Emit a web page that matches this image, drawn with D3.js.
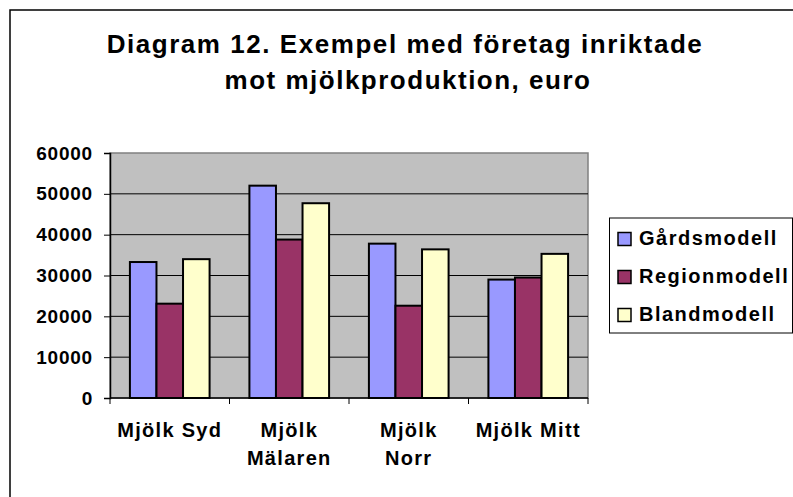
<!DOCTYPE html>
<html>
<head>
<meta charset="utf-8">
<script src="https://cdn.jsdelivr.net/npm/d3@7"></script>
<style>
  body { margin: 0; background: #fff; }
  svg { display: block; font-family: "Liberation Sans", Arial, sans-serif; font-weight: bold; }
</style>
</head>
<body>
<div id="chart"></div>
<script>
"use strict"

// chart data
let categories = [["Mjölk Syd"], ["Mjölk", "Mälaren"], ["Mjölk", "Norr"], ["Mjölk Mitt"]];
let seriesNames = ["Gårdsmodell", "Regionmodell", "Blandmodell"];
let seriesColors = ["#9999ff", "#993366", "#ffffcc"];
let gardsmodell = [33300, 52000, 37800, 29000];
let regionmodell = [23100, 38800, 22600, 29500];
let blandmodell = [34000, 47700, 36400, 35300];
let yTicks = [0, 10000, 20000, 30000, 40000, 50000, 60000];
let titleLines = ["Diagram 12. Exempel med företag inriktade", "mot mjölkproduktion, euro"];

let seriesValues = [gardsmodell, regionmodell, blandmodell];

let drawing = d3.select("#chart")
    .append("svg")
    .attr("width", 793)
    .attr("height", 497);

// outer chart border, runs off the right and bottom edge
drawing.append("rect")
    .attr("x", 10)
    .attr("y", 10)
    .attr("width", 800)
    .attr("height", 500)
    .attr("fill", "white")
    .attr("stroke", "black")
    .attr("stroke-width", 1.5);

// title
drawing.append("text")
    .attr("x", 405)
    .attr("y", 53)
    .attr("text-anchor", "middle")
    .attr("font-size", 26)
    .attr("letter-spacing", 1.55)
    .text(titleLines[0]);

drawing.append("text")
    .attr("x", 408)
    .attr("y", 89)
    .attr("text-anchor", "middle")
    .attr("font-size", 26)
    .attr("letter-spacing", 1.5)
    .text(titleLines[1]);

let plotLeft = 110, plotRight = 588, plotTop = 153, plotBottom = 398;

let x0 = d3.scaleBand()
    .domain(d3.range(categories.length))
    .range([plotLeft, plotRight]);

let x1 = d3.scaleBand()
    .domain(d3.range(seriesNames.length))
    .range([0, x0.bandwidth()])
    .paddingInner(0)
    .paddingOuter(0.75);

let y = d3.scaleLinear()
    .domain([0, 60000])
    .range([plotBottom, plotTop]);

// plot area
drawing.append("rect")
    .attr("x", plotLeft)
    .attr("y", plotTop)
    .attr("width", plotRight - plotLeft)
    .attr("height", plotBottom - plotTop)
    .attr("fill", "#c0c0c0")
    .attr("stroke", "#808080")
    .attr("stroke-width", 1.5);

// gridlines
drawing.append("g")
    .selectAll("line")
    .data(yTicks.filter(d => d > 0 && d < 60000))
    .join("line")
    .attr("x1", plotLeft)
    .attr("x2", plotRight)
    .attr("y1", d => y(d))
    .attr("y2", d => y(d))
    .attr("stroke", "black")
    .attr("stroke-width", 1);

// bars
for (let s = 0; s < seriesNames.length; s++) {
    drawing.append("g")
        .selectAll("rect")
        .data(seriesValues[s])
        .join("rect")
        .attr("x", (d, i) => x0(i) + x1(s))
        .attr("y", d => y(d))
        .attr("width", x1.bandwidth())
        .attr("height", d => y(0) - y(d))
        .attr("fill", seriesColors[s])
        .attr("stroke", "black")
        .attr("stroke-width", 2);
}

// y axis
let yAxis = drawing.append("g")
    .attr("transform", `translate(${plotLeft},0)`)
    .call(d3.axisLeft(y).tickValues(yTicks).tickSize(6).tickPadding(11).tickFormat(d3.format("d")));
yAxis.select(".domain").attr("stroke", "black").attr("stroke-width", 1.5);
yAxis.selectAll(".tick line").attr("stroke", "black");
yAxis.selectAll("text")
    .attr("font-family", "Liberation Sans, Arial, sans-serif")
    .attr("font-weight", "bold")
    .attr("font-size", 19)
    .attr("letter-spacing", 0.8)
    .attr("fill", "black");

// x axis line with ticks at category boundaries
let xAxis = drawing.append("g");
xAxis.append("line")
    .attr("x1", plotLeft)
    .attr("x2", plotRight)
    .attr("y1", plotBottom)
    .attr("y2", plotBottom)
    .attr("stroke", "black")
    .attr("stroke-width", 1.5);
xAxis.selectAll("line.tick")
    .data(d3.range(categories.length + 1))
    .join("line")
    .attr("class", "tick")
    .attr("x1", i => plotLeft + i * x0.step())
    .attr("x2", i => plotLeft + i * x0.step())
    .attr("y1", plotBottom)
    .attr("y2", plotBottom + 6)
    .attr("stroke", "black");

// category labels
let catLabels = drawing.append("g")
    .selectAll("text")
    .data(categories)
    .join("text")
    .attr("x", (d, i) => x0(i) + x0.bandwidth() / 2)
    .attr("y", 437)
    .attr("text-anchor", "middle")
    .attr("font-size", 20)
    .attr("letter-spacing", 1.3);
catLabels.selectAll("tspan")
    .data((d, i) => d.map(t => ({ t: t, i: i })))
    .join("tspan")
    .attr("x", d => x0(d.i) + x0.bandwidth() / 2)
    .attr("dy", (d, j) => j === 0 ? 0 : 28)
    .text(d => d.t);

// legend
let legend = drawing.append("g");
legend.append("rect")
    .attr("x", 609.5)
    .attr("y", 218)
    .attr("width", 183)
    .attr("height", 115)
    .attr("fill", "white")
    .attr("stroke", "black")
    .attr("stroke-width", 1);

let legendY = d3.scalePoint()
    .domain(seriesNames)
    .range([239, 315]);

let legendRows = legend.selectAll("g")
    .data(seriesNames)
    .join("g")
    .attr("transform", d => `translate(0,${legendY(d)})`);

legendRows.append("rect")
    .attr("x", 618)
    .attr("y", -6.5)
    .attr("width", 13)
    .attr("height", 13)
    .attr("fill", (d, i) => seriesColors[i])
    .attr("stroke", "black")
    .attr("stroke-width", 1.5);

legendRows.append("text")
    .attr("x", 639)
    .attr("y", 6)
    .attr("font-size", 20)
    .attr("letter-spacing", 1.5)
    .text(d => d);
</script>
</body>
</html>
